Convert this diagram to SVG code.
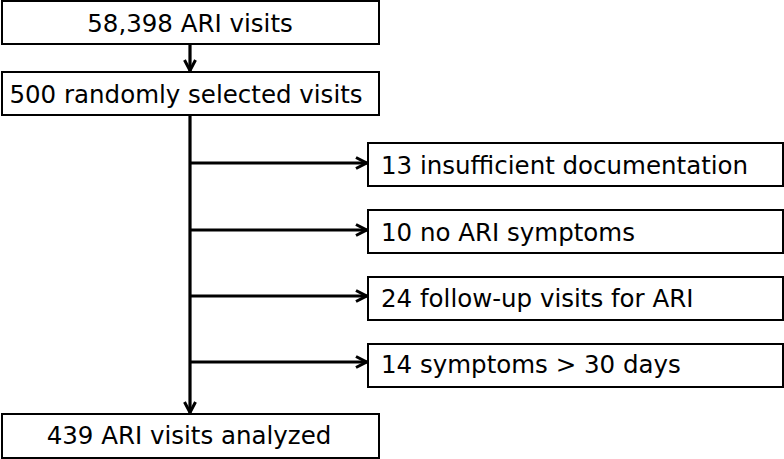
<svg xmlns="http://www.w3.org/2000/svg" width="784" height="459" viewBox="0 0 784 459">
<defs>
<marker id="ah" viewBox="0 0 14 14" refX="12.5" refY="7" markerWidth="14" markerHeight="14" markerUnits="userSpaceOnUse" orient="auto">
<path d="M1.5,1.5 L12,7 L1.5,12.5" fill="none" stroke="#000" stroke-width="3"/>
</marker>
<style>
.box{fill:#fff;stroke:#000;stroke-width:2}
.t{font-family:"DejaVu Sans",sans-serif;font-size:24.5px;fill:#000}
.c{stroke:#000;stroke-width:3.2;fill:none}
</style>
</defs>
<rect width="784" height="459" fill="#fff"/>
<g id="connectors">
<line class="c" x1="190" y1="44" x2="190" y2="71" marker-end="url(#ah)"/>
<line class="c" x1="190" y1="115" x2="190" y2="413" marker-end="url(#ah)"/>
<line class="c" x1="190" y1="163" x2="367" y2="163" marker-end="url(#ah)"/>
<line class="c" x1="190" y1="230" x2="367" y2="230" marker-end="url(#ah)"/>
<line class="c" x1="190" y1="296" x2="367" y2="296" marker-end="url(#ah)"/>
<line class="c" x1="190" y1="362" x2="367" y2="362" marker-end="url(#ah)"/>
</g>
<g id="n1"><rect class="box" x="2" y="1" width="377" height="43"/><text class="t" x="190" y="32" text-anchor="middle">58,398 ARI visits</text></g>
<g id="n2"><rect class="box" x="2" y="72" width="377" height="43"/><text class="t" x="186" y="103" text-anchor="middle">500 randomly selected visits</text></g>
<g id="n3"><rect class="box" x="368" y="143" width="415" height="43"/><text class="t" x="381" y="174">13 insufficient documentation</text></g>
<g id="n4"><rect class="box" x="368" y="210" width="415" height="43"/><text class="t" x="381" y="241">10 no ARI symptoms</text></g>
<g id="n5"><rect class="box" x="368" y="277" width="415" height="43"/><text class="t" x="381" y="307">24 follow-up visits for ARI</text></g>
<g id="n6"><rect class="box" x="368" y="344" width="415" height="43"/><text class="t" x="381" y="373">14 symptoms &gt; 30 days</text></g>
<g id="n7"><rect class="box" x="2" y="414" width="377" height="44"/><text class="t" x="189" y="444" text-anchor="middle">439 ARI visits analyzed</text></g>
</svg>
